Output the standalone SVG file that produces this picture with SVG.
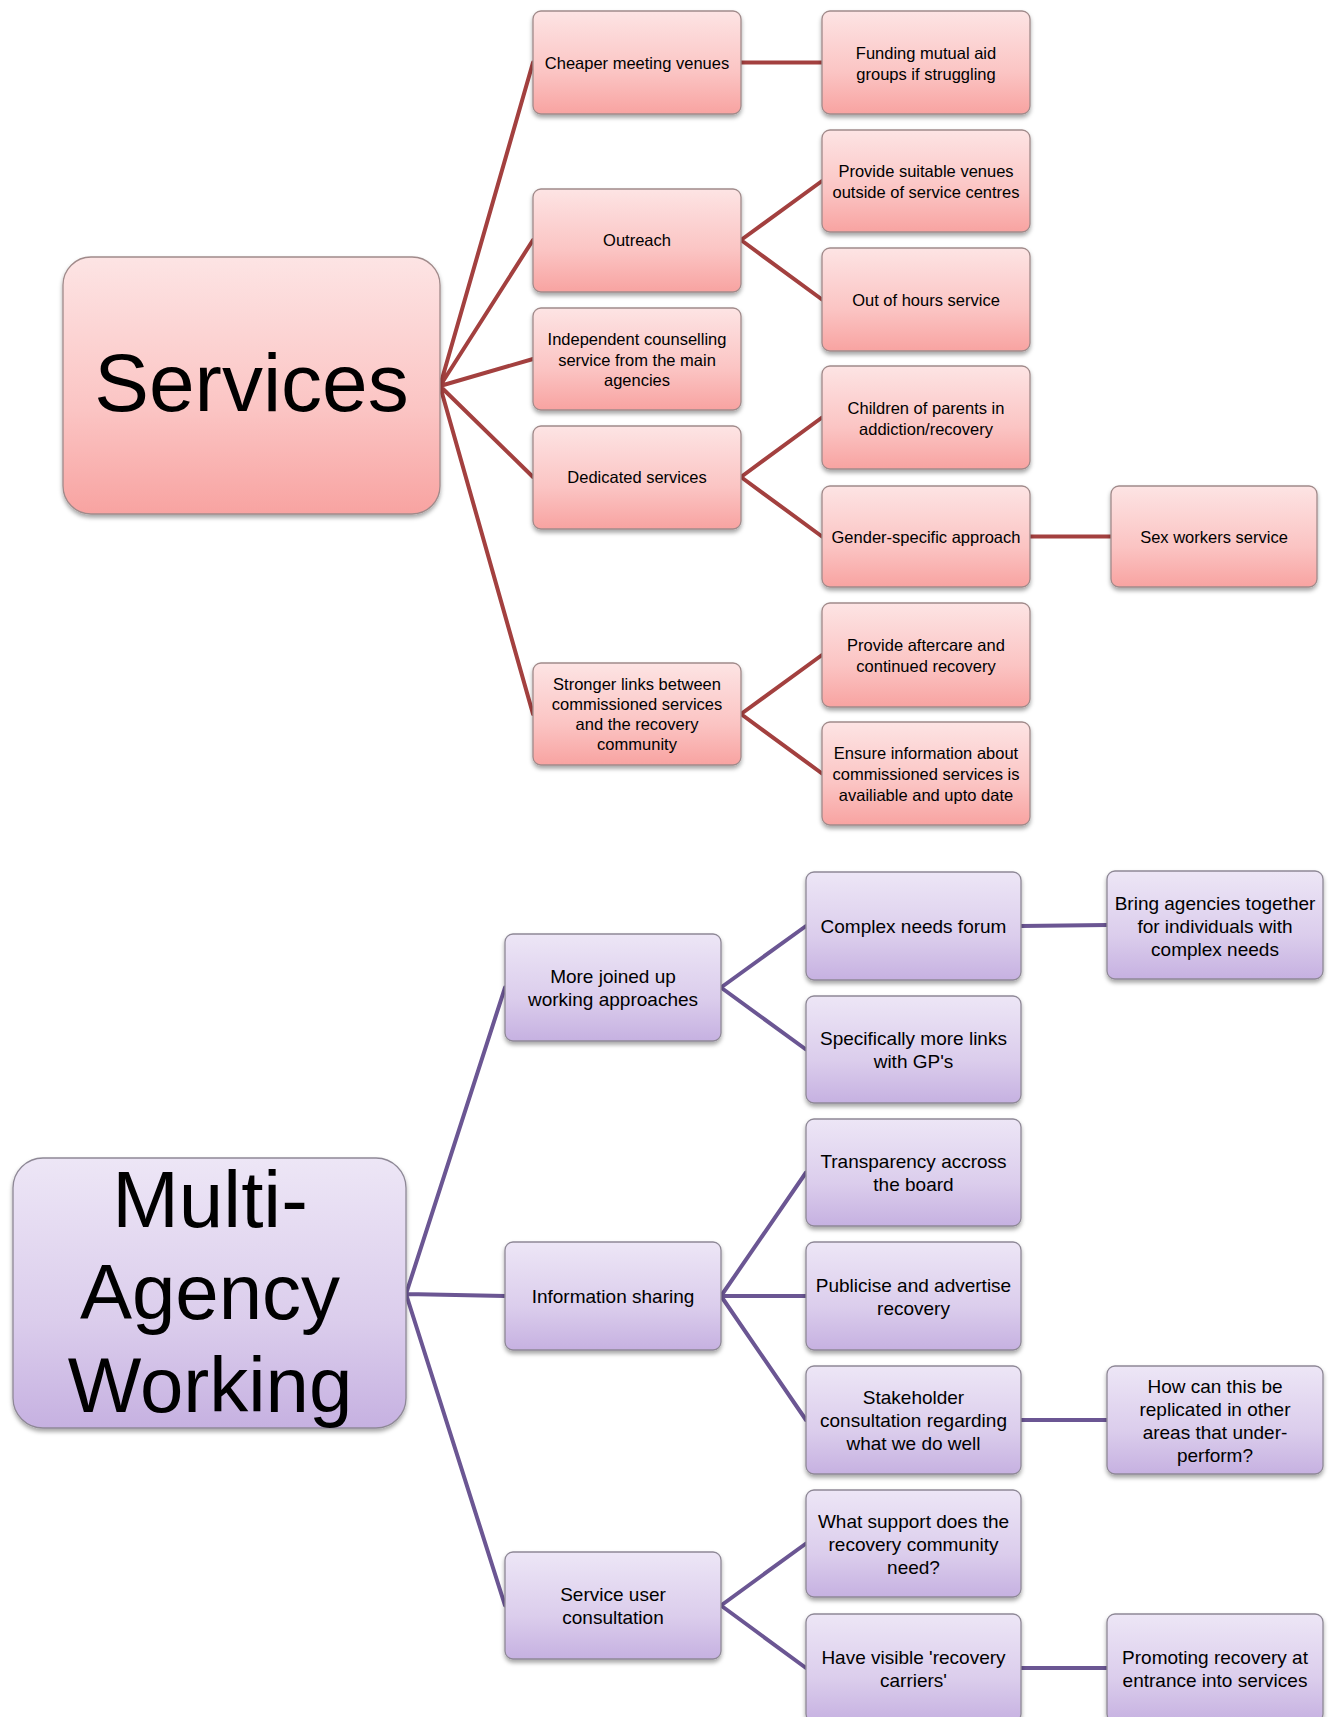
<svg xmlns="http://www.w3.org/2000/svg" width="1333" height="1717" viewBox="0 0 1333 1717">
<defs>
<linearGradient id="gp" x1="0" y1="0" x2="0" y2="1">
<stop offset="0" stop-color="#FDE4E4"/>
<stop offset="0.6" stop-color="#FBC4C3"/>
<stop offset="1" stop-color="#F8A3A1"/>
</linearGradient>
<linearGradient id="gv" x1="0" y1="0" x2="0" y2="1">
<stop offset="0" stop-color="#EDE6F6"/>
<stop offset="0.6" stop-color="#DBCDEC"/>
<stop offset="1" stop-color="#C6B1E1"/>
</linearGradient>
<filter id="sh" x="-10%" y="-10%" width="120%" height="130%">
<feDropShadow dx="0" dy="3" stdDeviation="2" flood-color="#000" flood-opacity="0.35"/>
</filter>
</defs>
<style>
.pk{fill:url(#gp);stroke:#A08A8A;stroke-width:1.3;filter:url(#sh)}
.pu{fill:url(#gv);stroke:#8E8896;stroke-width:1.3;filter:url(#sh)}
.tp{font-family:"Liberation Sans",Arial,sans-serif;font-size:16.5px;fill:#000;text-anchor:middle;dominant-baseline:central}
.tv{font-family:"Liberation Sans",Arial,sans-serif;font-size:19px;fill:#000;text-anchor:middle;dominant-baseline:central}
.big{font-family:"Liberation Sans",Arial,sans-serif;fill:#000;text-anchor:middle}
.lp{stroke:#A3403F;stroke-width:4;fill:none;stroke-linecap:round}
.lv{stroke:#6B5693;stroke-width:4;fill:none;stroke-linecap:round}
</style>
<g id="connectors">
<path class="lp" d="M440 386L533 62.5M440 386L533 240M440 386L533 359M440 386L533 477M440 386L533 714"/>
<path class="lp" d="M741 62.5L822 62.5M741 240L822 181M741 240L822 299.5M741 477L822 417.5M741 477L822 536.5M741 714L822 655M741 714L822 773.5M1030 536.5L1111 536.5"/>
<path class="lv" d="M406 1294L505 987.5M406 1294L505 1296M406 1294L505 1605.5"/>
<path class="lv" d="M721 987.5L806 926M721 987.5L806 1049.5M721 1296L806 1172.5M721 1296L806 1296M721 1296L806 1420M721 1605.5L806 1543.5M721 1605.5L806 1668M1021 926L1107 925M1021 1420L1107 1420M1021 1668L1107 1668"/>
</g>
<g id="services">
<rect class="pk" x="63" y="257" width="377" height="257" rx="28"/>
<text class="big" x="251.5" y="411" font-size="82">Services</text>
</g>
<g id="cheaper"><rect class="pk" x="533" y="11" width="208" height="103" rx="8"/><text class="tp" x="637" y="62.5">Cheaper meeting venues</text></g>
<g id="outreach"><rect class="pk" x="533" y="189" width="208" height="103" rx="8"/><text class="tp" x="637" y="240">Outreach</text></g>
<g id="independent"><rect class="pk" x="533" y="308" width="208" height="102" rx="8"/><text class="tp" x="637" y="339">Independent counselling</text><text class="tp" x="637" y="359.5">service from the main</text><text class="tp" x="637" y="380">agencies</text></g>
<g id="dedicated"><rect class="pk" x="533" y="426" width="208" height="103" rx="8"/><text class="tp" x="637" y="477">Dedicated services</text></g>
<g id="stronger"><rect class="pk" x="533" y="663" width="208" height="102" rx="8"/><text class="tp" x="637" y="684">Stronger links between</text><text class="tp" x="637" y="704">commissioned services</text><text class="tp" x="637" y="724">and  the recovery</text><text class="tp" x="637" y="744">community</text></g>
<g id="funding"><rect class="pk" x="822" y="11" width="208" height="103" rx="8"/><text class="tp" x="926" y="53">Funding mutual aid</text><text class="tp" x="926" y="73.5">groups if struggling</text></g>
<g id="suitable"><rect class="pk" x="822" y="130" width="208" height="102" rx="8"/><text class="tp" x="926" y="171">Provide suitable venues</text><text class="tp" x="926" y="191.5">outside of service centres</text></g>
<g id="outofhours"><rect class="pk" x="822" y="248" width="208" height="103" rx="8"/><text class="tp" x="926" y="299.5">Out of hours service</text></g>
<g id="children"><rect class="pk" x="822" y="366" width="208" height="103" rx="8"/><text class="tp" x="926" y="408">Children of parents in</text><text class="tp" x="926" y="428.5">addiction/recovery</text></g>
<g id="gender"><rect class="pk" x="822" y="486" width="208" height="101" rx="8"/><text class="tp" x="926" y="536.5">Gender-specific approach</text></g>
<g id="sexworkers"><rect class="pk" x="1111" y="486" width="206" height="101" rx="8"/><text class="tp" x="1214" y="536.5">Sex workers service</text></g>
<g id="aftercare"><rect class="pk" x="822" y="603" width="208" height="104" rx="8"/><text class="tp" x="926" y="645">Provide aftercare and</text><text class="tp" x="926" y="665.5">continued recovery</text></g>
<g id="ensure"><rect class="pk" x="822" y="722" width="208" height="103" rx="8"/><text class="tp" x="926" y="753">Ensure information about</text><text class="tp" x="926" y="774">commissioned services is</text><text class="tp" x="926" y="795">availiable  and upto date</text></g>
<g id="multiagency">
<rect class="pu" x="13" y="1158" width="393" height="270" rx="30"/>
<text class="big" x="210" y="1227" font-size="80">Multi-</text>
<text class="big" x="210" y="1319" font-size="78">Agency</text>
<text class="big" x="210" y="1412" font-size="78">Working</text>
</g>
<g id="joinedup"><rect class="pu" x="505" y="934" width="216" height="107" rx="8"/><text class="tv" x="613" y="976">More joined up</text><text class="tv" x="613" y="999">working approaches</text></g>
<g id="infosharing"><rect class="pu" x="505" y="1242" width="216" height="108" rx="8"/><text class="tv" x="613" y="1296">Information sharing</text></g>
<g id="serviceuser"><rect class="pu" x="505" y="1552" width="216" height="107" rx="8"/><text class="tv" x="613" y="1594">Service user</text><text class="tv" x="613" y="1617">consultation</text></g>
<g id="complex"><rect class="pu" x="806" y="872" width="215" height="108" rx="8"/><text class="tv" x="913.5" y="926.5">Complex needs forum</text></g>
<g id="gps"><rect class="pu" x="806" y="996" width="215" height="107" rx="8"/><text class="tv" x="913.5" y="1038">Specifically more links</text><text class="tv" x="913.5" y="1061">with GP's</text></g>
<g id="transparency"><rect class="pu" x="806" y="1119" width="215" height="107" rx="8"/><text class="tv" x="913.5" y="1161">Transparency accross</text><text class="tv" x="913.5" y="1184">the board</text></g>
<g id="publicise"><rect class="pu" x="806" y="1242" width="215" height="108" rx="8"/><text class="tv" x="913.5" y="1285">Publicise and advertise</text><text class="tv" x="913.5" y="1308">recovery</text></g>
<g id="stakeholder"><rect class="pu" x="806" y="1366" width="215" height="108" rx="8"/><text class="tv" x="913.5" y="1397">Stakeholder</text><text class="tv" x="913.5" y="1420">consultation regarding</text><text class="tv" x="913.5" y="1443">what we do well</text></g>
<g id="whatsupport"><rect class="pu" x="806" y="1490" width="215" height="107" rx="8"/><text class="tv" x="913.5" y="1521">What support does the</text><text class="tv" x="913.5" y="1544">recovery community</text><text class="tv" x="913.5" y="1567">need?</text></g>
<g id="visible"><rect class="pu" x="806" y="1614" width="215" height="108" rx="8"/><text class="tv" x="913.5" y="1657">Have visible 'recovery</text><text class="tv" x="913.5" y="1680">carriers'</text></g>
<g id="bring"><rect class="pu" x="1107" y="871" width="216" height="108" rx="8"/><text class="tv" x="1215" y="903">Bring agencies together</text><text class="tv" x="1215" y="926">for individuals with</text><text class="tv" x="1215" y="949">complex needs</text></g>
<g id="howcan"><rect class="pu" x="1107" y="1366" width="216" height="108" rx="8"/><text class="tv" x="1215" y="1386">How can this be</text><text class="tv" x="1215" y="1409">replicated in other</text><text class="tv" x="1215" y="1432">areas that under-</text><text class="tv" x="1215" y="1455">perform?</text></g>
<g id="promoting"><rect class="pu" x="1107" y="1614" width="216" height="108" rx="8"/><text class="tv" x="1215" y="1657">Promoting recovery at</text><text class="tv" x="1215" y="1680">entrance into services</text></g>
</svg>
